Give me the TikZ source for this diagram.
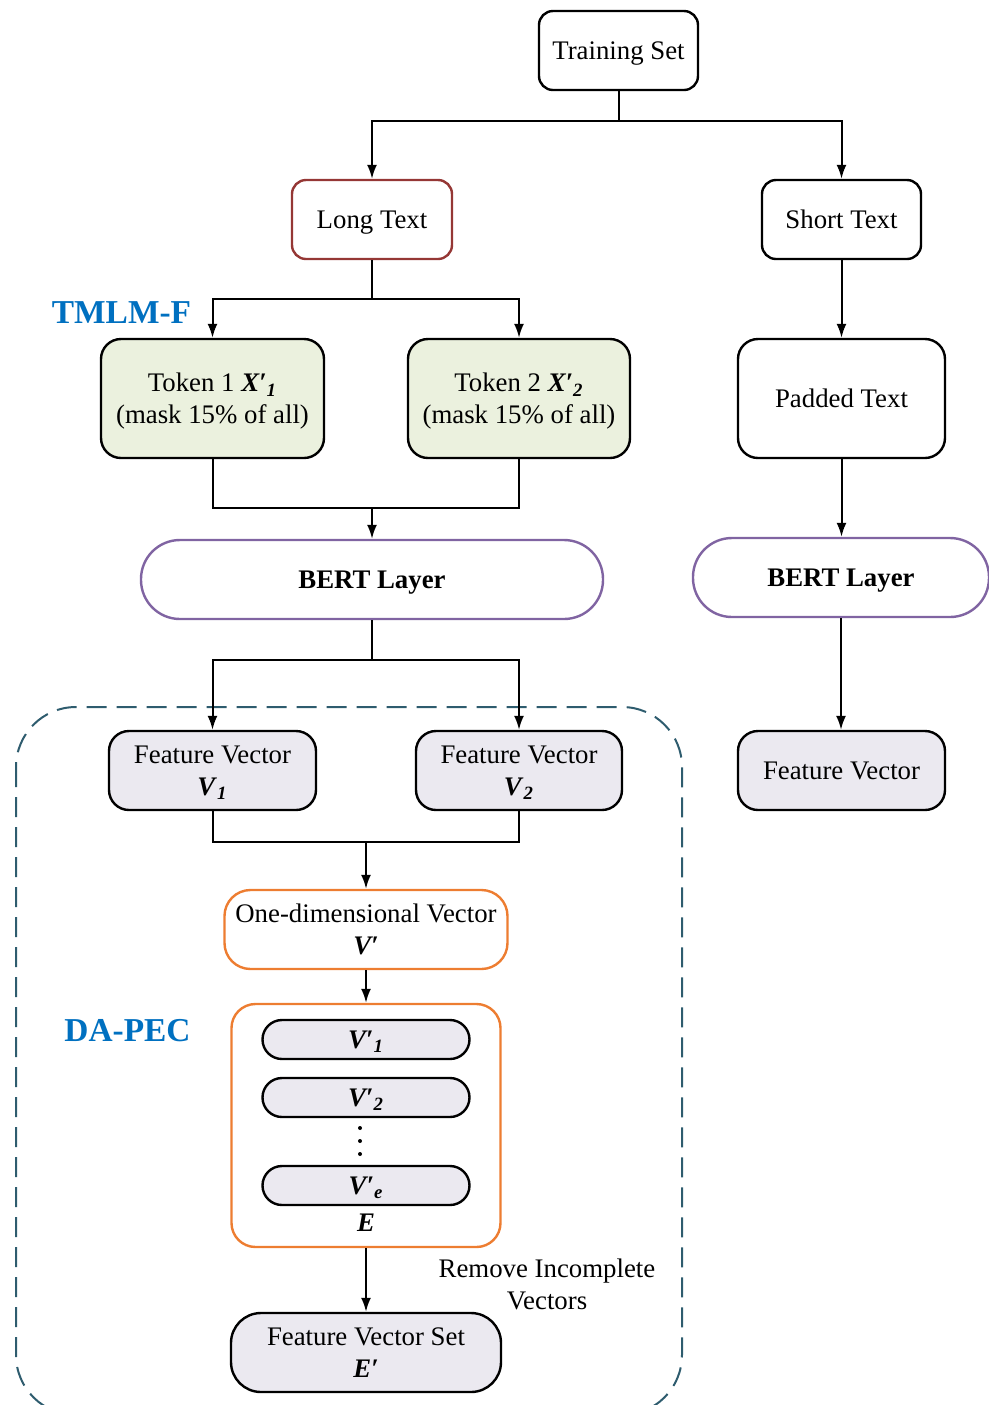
\documentclass[tikz,border=0pt]{standalone}
\usepackage{fontspec}
\setmainfont{Liberation Serif}
\usetikzlibrary{arrows.meta}
\definecolor{redb}{HTML}{953735}
\definecolor{greenf}{HTML}{EBF1DE}
\definecolor{purp}{HTML}{8064A2}
\definecolor{lavf}{HTML}{EBE9F0}
\definecolor{orng}{HTML}{ED7D31}
\definecolor{teal}{HTML}{2E5C6E}
\definecolor{blu}{HTML}{0070C0}
\newcommand{\bi}[1]{\textbf{\textit{#1}}}
\newcommand{\bisub}[2]{\bi{#1}\textsubscript{\bi{#2}}}
\newcommand{\mainfs}{\fontsize{13.4}{16}\selectfont}
\newcommand{\bigfs}{\fontsize{16.7}{20}\selectfont}
\begin{document}
\begin{tikzpicture}[x=0.5pt,y=-0.5pt,
  box/.style={draw, line width=1.2pt, rounded corners=7pt, align=center, inner sep=0pt, text depth=0pt, font=\mainfs},
  arr/.style={-{Latex[length=7pt,width=5pt]}, line width=1pt},
  ln/.style={line width=1pt},
  lbl/.style={font=\bigfs\bfseries, text=blu, inner sep=0pt},
  pill/.style={box, rounded corners=9.75pt, fill=lavf, minimum width=103.5pt, minimum height=19.5pt}
]
\useasboundingbox (0,0) rectangle (989,1405);
\clip (0,0) rectangle (989,1405);
\draw[teal, line width=1pt, dash pattern=on 10pt off 5pt, rounded corners=30pt] (16,707) rectangle (682,1415);

\node[box, minimum width=79.5pt, minimum height=39.5pt] (ts) at (618.5,50.5) {Training Set};
\node[box, draw=redb, minimum width=80pt, minimum height=39.5pt] (lt) at (372,219.5) {Long Text};
\node[box, minimum width=79.5pt, minimum height=39.5pt] (st) at (841.5,219.5) {Short Text};
\node[box, fill=greenf, rounded corners=10pt, minimum width=111.5pt, minimum height=59.5pt] (t1) at (212.5,398.5) {Token 1 \bisub{X′}{1}\\(mask 15\% of all)};
\node[box, fill=greenf, rounded corners=10pt, minimum width=111pt, minimum height=59.5pt] (t2) at (519,398.5) {Token 2 \bisub{X′}{2}\\(mask 15\% of all)};
\node[box, rounded corners=10pt, minimum width=103.5pt, minimum height=59.5pt] (pt) at (841.5,398.5) {Padded Text};
\node[box, draw=purp, rounded corners=19.5pt, minimum width=231pt, minimum height=39.5pt, font=\mainfs\bfseries] (b1) at (372,579.5) {BERT Layer};
\node[box, draw=purp, rounded corners=19.5pt, minimum width=148pt, minimum height=39.5pt, font=\mainfs\bfseries] (b2) at (841,577.5) {BERT Layer};
\node[box, fill=lavf, rounded corners=10pt, minimum width=103.5pt, minimum height=39.5pt] (fv1) at (212.5,770.5) {Feature Vector\\\bisub{V}{1}};
\node[box, fill=lavf, rounded corners=10pt, minimum width=103pt, minimum height=39.5pt] (fv2) at (519,770.5) {Feature Vector\\\bisub{V}{2}};
\node[box, fill=lavf, rounded corners=10pt, minimum width=103.5pt, minimum height=39.5pt] (fv3) at (841.5,770.5) {Feature Vector};
\node[box, draw=orng, rounded corners=13pt, minimum width=141.5pt, minimum height=39.5pt] (od) at (366,929.5) {One-dimensional Vector\\\bi{V′}};
\node[box, draw=orng, rounded corners=12pt, minimum width=134.5pt, minimum height=121.5pt] (eb) at (366,1125.5) {};
\node[pill] (v1) at (366,1039.5) {\bisub{V′}{1}};
\node[pill] (v2) at (366,1097.5) {\bisub{V′}{2}};
\node[pill] (ve) at (366,1185.5) {\bisub{V′}{e}};
\node[font=\mainfs, inner sep=0pt, text depth=0pt] (el) at (366,1223) {\bi{E}};
\fill (360,1128) circle (1pt) (360,1141) circle (1pt) (360,1154) circle (1pt);
\node[box, fill=lavf, rounded corners=15pt, minimum width=135pt, minimum height=39.5pt] (fvs) at (366,1352.5) {Feature Vector Set\\\bi{E′}};
\node[font=\mainfs, align=center, inner sep=0pt] (rm) at (547,1284.5) {Remove Incomplete\\Vectors};
\node[lbl] (tm) at (121.5,313) {TMLM-F};
\node[lbl] (da) at (127.5,1031) {DA-PEC};

\draw[arr] (ts.south) -- ++(0,30) -| (lt.north);
\draw[arr] (ts.south) -- ++(0,30) -| (st.north);
\draw[arr] (lt.south) -- ++(0,39) -| (t1.north);
\draw[arr] (lt.south) -- ++(0,39) -| (t2.north);
\draw[arr] (st.south) -- (pt.north);
\coordinate (m1) at (372,508);
\draw[ln] (t1.south) |- (m1) -| (t2.south);
\draw[arr] (m1) -- (b1.north);
\draw[arr] (pt.south) -- (pt.south |- b2.north);
\draw[arr] (b1.south) -- ++(0,40) -| (fv1.north);
\draw[arr] (b1.south) -- ++(0,40) -| (fv2.north);
\draw[arr] (b2.south) -- (b2.south |- fv3.north);
\coordinate (m2) at (366,842);
\draw[ln] (fv1.south) |- (m2) -| (fv2.south);
\draw[arr] (m2) -- (od.north);
\draw[arr] (od.south) -- (eb.north);
\draw[arr] (eb.south) -- (fvs.north);
\end{tikzpicture}
\end{document}
